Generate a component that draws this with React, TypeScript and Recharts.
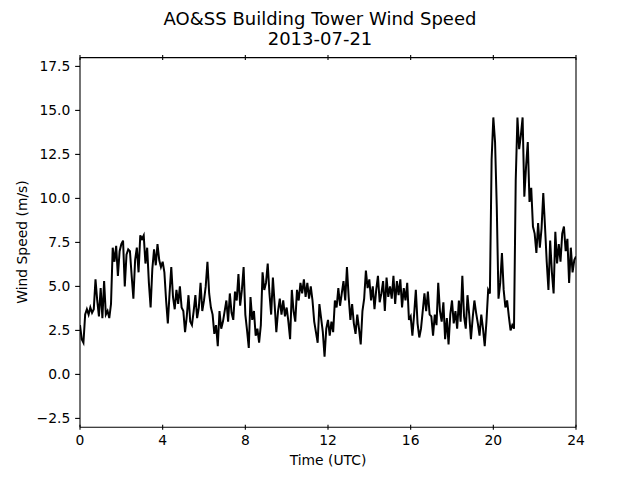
import { LineChart, Line, XAxis, YAxis } from 'recharts';

// wind speed (m/s), one reading every 5 minutes, 12 per hour
const SPEED_00_04 = [
  2.8, 2.0, 1.8, 3.4, 3.7, 3.4, 3.8, 3.5, 3.7, 5.4, 4.2, 3.3,
  4.9, 3.2, 5.3, 3.4, 3.6, 3.2, 4.0, 7.2, 6.4, 7.3, 5.6, 7.0,
  7.4, 7.6, 5.0, 6.8, 7.1, 7.0, 5.6, 4.3, 6.5, 7.2, 5.8, 7.9,
  7.7, 7.9, 6.3, 7.2, 5.2, 3.8, 6.0, 7.1, 6.2, 7.4, 6.5, 6.1,
];
const SPEED_04_08 = [
  6.4, 5.8, 4.2, 2.9, 4.6, 6.1, 4.4, 3.7, 4.8, 4.0, 5.0, 3.8,
  3.6, 2.4, 3.3, 4.5, 3.0, 2.8, 3.6, 4.5, 3.2, 3.8, 5.2, 3.6,
  4.2, 5.0, 6.4, 4.6, 3.8, 3.4, 2.3, 2.8, 1.6, 3.6, 2.6, 3.0,
  3.6, 4.2, 3.0, 4.6, 3.5, 3.1, 4.7, 4.2, 5.7, 3.9, 4.8, 6.1,
];
const SPEED_08_12 = [
  3.4, 2.5, 1.5, 4.4, 3.1, 3.6, 2.2, 2.6, 1.8, 2.8, 5.8, 4.8,
  5.2, 6.3, 4.6, 3.4, 5.5, 4.0, 2.4, 3.6, 4.3, 3.4, 4.2, 3.3,
  3.8, 3.0, 2.0, 4.8, 3.6, 3.0, 4.8, 4.2, 5.2, 4.6, 5.4, 4.4,
  5.2, 4.3, 5.0, 4.2, 3.0, 2.4, 1.8, 4.0, 3.2, 2.4, 1.0, 2.6,
];
const SPEED_12_16 = [
  3.1, 2.2, 3.0, 2.4, 4.2, 3.8, 4.9, 3.9, 4.6, 5.3, 4.2, 6.1,
  4.4, 3.1, 4.0, 2.9, 2.3, 3.4, 2.6, 1.7, 3.6, 4.3, 5.9, 4.9,
  5.4, 4.2, 5.0, 3.7, 4.8, 5.6, 4.1, 4.6, 5.3, 3.6, 5.5, 4.4,
  5.0, 4.3, 5.6, 4.0, 5.3, 4.5, 5.4, 3.8, 4.9, 4.2, 5.2, 3.1,
];
const SPEED_16_20 = [
  3.3, 2.2, 3.4, 4.8, 2.9, 2.1, 2.6, 3.6, 4.6, 3.6, 4.7, 3.4,
  3.3, 2.2, 3.4, 2.8, 5.2, 3.6, 3.0, 4.1, 2.0, 3.2, 1.7, 3.4,
  4.2, 2.9, 3.6, 2.6, 4.2, 3.0, 5.6, 3.3, 2.6, 4.5, 3.4, 2.0,
  3.2, 4.2, 3.5, 2.9, 2.2, 3.4, 2.6, 1.6, 3.0, 4.8, 4.6, 12.2,
];
const SPEED_20_24 = [
  14.6, 13.2, 9.5, 4.3, 5.2, 6.9, 4.8, 3.8, 4.2, 3.3, 2.5, 2.8,
  2.6, 11.0, 14.6, 12.8, 13.6, 14.6, 10.1, 11.8, 13.2, 9.8, 10.6, 8.4,
  8.0, 6.9, 8.6, 7.2, 8.3, 10.3, 8.4, 6.4, 4.8, 7.6, 5.8, 4.6,
  8.1, 6.3, 7.4, 6.4, 8.0, 8.4, 7.0, 7.7, 5.2, 7.2, 5.8, 6.5,
  6.7,
];

const STEP_HOURS = 5 / 60;
const X_TICKS = [0, 4, 8, 12, 16, 20, 24];
const Y_TICKS = [-2.5, 0, 2.5, 5, 7.5, 10, 12.5, 15, 17.5];

const speeds = [
  ...SPEED_00_04, ...SPEED_04_08, ...SPEED_08_12,
  ...SPEED_12_16, ...SPEED_16_20, ...SPEED_20_24,
];
const data = speeds.map((v, i) => ({ t: i * STEP_HOURS, v }));

const FONT = '"DejaVu Sans", sans-serif';
const tickStyle = { fontFamily: FONT, fontSize: 13.89, fill: '#000' };

const fmtY = (v: number) => (v < 0 ? '\u2212' : '') + Math.abs(v).toFixed(1);

export default function App() {
  return (
    <div style={{ position: 'absolute', left: 0, top: 0, width: 640, height: 480, background: '#fff', fontFamily: FONT, color: '#000' }}>
      <div style={{ position: 'absolute', left: 0, top: 8.5, width: 640, textAlign: 'center', fontSize: 18, lineHeight: '20.5px' }}>
        AO&amp;SS Building Tower Wind Speed
        <br />
        2013-07-21
      </div>
      <LineChart
        width={640}
        height={480}
        data={data}
        margin={{ top: 56.6, right: 63, bottom: 22.8, left: 20 }}
      >
        <XAxis
          dataKey="t"
          type="number"
          domain={[0, 24]}
          ticks={X_TICKS}
          interval={0}
          allowDataOverflow
          height={30}
          tickSize={4.9}
          tickMargin={2.6}
          tick={tickStyle}
          axisLine={{ stroke: '#000', strokeWidth: 1.1 }}
          tickLine={{ stroke: '#000', strokeWidth: 1.1, transform: 'translate(0,-2.4)' }}
        />
        <XAxis
          xAxisId="top"
          orientation="top"
          dataKey="t"
          type="number"
          domain={[0, 24]}
          ticks={X_TICKS}
          interval={0}
          allowDataOverflow
          height={1}
          tickSize={4.9}
          tick={() => <g />}
          axisLine={{ stroke: '#000', strokeWidth: 1.1 }}
          tickLine={{ stroke: '#000', strokeWidth: 1.1, transform: 'translate(0,2.4)' }}
        />
        <YAxis
          type="number"
          domain={[-3, 18]}
          ticks={Y_TICKS}
          interval={0}
          allowDataOverflow
          width={60}
          tickSize={4.86}
          tickMargin={4.84}
          tick={tickStyle}
          tickFormatter={fmtY}
          axisLine={{ stroke: '#000', strokeWidth: 1.1 }}
          tickLine={{ stroke: '#000', strokeWidth: 1.1 }}
        />
        <YAxis
          yAxisId="right"
          orientation="right"
          type="number"
          domain={[-3, 18]}
          allowDataOverflow
          width={1}
          tick={false}
          tickLine={false}
          axisLine={{ stroke: '#000', strokeWidth: 1.1 }}
        />
        <Line
          dataKey="v"
          type="linear"
          stroke="#000"
          strokeWidth={2}
          dot={false}
          activeDot={false}
          isAnimationActive={false}
        />
      </LineChart>
      <div style={{ position: 'absolute', left: 80, top: 452.2, width: 496, textAlign: 'center', fontSize: 13.89, lineHeight: '16px' }}>
        Time (UTC)
      </div>
      <div
        style={{
          position: 'absolute',
          left: 22.1 - 100,
          top: 242.4 - 8,
          width: 200,
          height: 16,
          textAlign: 'center',
          fontSize: 13.89,
          lineHeight: '16px',
          transform: 'rotate(-90deg)',
        }}
      >
        Wind Speed (m/s)
      </div>
    </div>
  );
}
